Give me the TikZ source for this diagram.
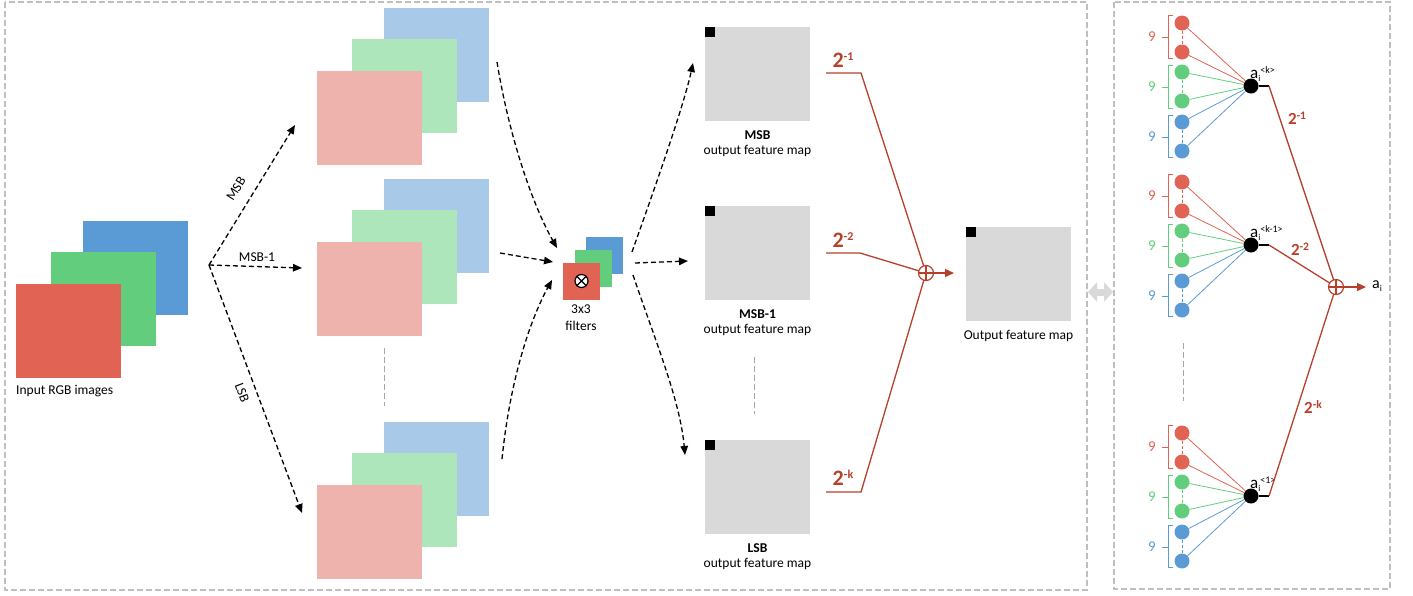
\documentclass[tikz,border=0pt]{standalone}
\usepackage{fontspec}
\setmainfont{Carlito}
\usetikzlibrary{arrows.meta}
\definecolor{cR}{HTML}{E06353}
\definecolor{cG}{HTML}{62CE7D}
\definecolor{cB}{HTML}{5B9BD5}
\definecolor{pR}{HTML}{EFB3AE}
\definecolor{pG}{HTML}{ADE6BA}
\definecolor{pB}{HTML}{A9C9E8}
\definecolor{mapg}{HTML}{D9D9D9}
\definecolor{dred}{HTML}{B5412A}
\definecolor{bord}{HTML}{BFBFBF}
\definecolor{sepg}{HTML}{A6A6A6}
\newcommand\myfs[1]{\fontsize{#1}{#1}\selectfont}
\begin{document}
\begin{tikzpicture}[x=1pt,y=-1pt,
  sq/.style={minimum width=105pt,minimum height=94pt,inner sep=0pt,outer sep=0pt},
  fsq/.style={minimum width=37pt,minimum height=37pt,inner sep=0pt,outer sep=0pt},
  blk/.style={fill=black,minimum size=10pt,inner sep=0pt,outer sep=0pt,anchor=north west},
  darr/.style={draw=black,line width=1.3pt,dash pattern=on 5pt off 3pt,-{Triangle[length=9pt,width=7.5pt]}},
  txt/.style={font=\myfs{13.5},inner sep=0pt},
  redln/.style={draw=dred,line width=1.3pt},
  wl/.style={text=dred,font=\bfseries\myfs{22},inner sep=0pt},
  wr/.style={text=dred,font=\bfseries\myfs{17},inner sep=0pt},
  dbox/.style={draw=bord,line width=1.5pt,dash pattern=on 6pt off 3pt},
  sepl/.style={draw=sepg,line width=0.8pt,dash pattern=on 6pt off 3pt},
  neu/.style={circle,minimum size=15pt,inner sep=0pt,outer sep=0pt},
  hid/.style={circle,fill=black,minimum size=15pt,inner sep=0pt,outer sep=0pt},
  sumc/.style={circle,draw=dred,line width=1.2pt,fill=white,minimum size=15pt,inner sep=0pt,outer sep=0pt},
]
\useasboundingbox (0,0) rectangle (1413,595);
% frames
\draw[dbox] (5,2) rectangle (1087,590);
\draw[dbox] (1114,2) rectangle (1390,589);
% double arrow
\coordinate (da1) at (1088,292);
\coordinate (da2) at (1113,292);
\draw[draw=mapg,line width=7pt,{Triangle[length=9pt,width=19pt]}-{Triangle[length=9pt,width=19pt]}] (da1) -- (da2);

% input images
\node[sq,fill=cB] (inB) at (135.5,268) {};
\node[sq,fill=cG] (inG) at (103.5,299) {};
\node[sq,fill=cR] (inR) at (68.5,331) {};
\node[txt,anchor=base west] (inLbl) at (16,394.5) {Input RGB images};

% bit-plane stacks
\foreach \k/\y in {1/55,2/226,3/469}{
  \node[sq,fill=pB] (sB\k) at (436.5,\y) {};
  \node[sq,fill=pG] (sG\k) at (404.5,\y+31) {};
  \node[sq,fill=pR] (sR\k) at (369.5,\y+63) {};
}
\draw[sepl] (384,348) -- (384,406);

% branch arrows
\coordinate (br) at (209,265);
\coordinate (eMSB) at (295,125);
\coordinate (eMSB1) at (302,268);
\coordinate (eLSB) at (302,513);
\draw[darr] (br) -- (eMSB);
\draw[darr] (br) -- (eMSB1);
\draw[darr] (br) -- (eLSB);
\node[txt,rotate=58] (lMSB) at (236,189) {MSB};
\node[txt,anchor=base] (lMSB1) at (257,261) {MSB-1};
\node[txt,rotate=-69] (lLSB) at (242,393) {LSB};

% filters
\node[fsq,fill=cB] (fB) at (604.5,255.5) {};
\node[fsq,fill=cG] (fG) at (593,268) {};
\node[fsq,fill=cR] (fR) at (581.5,281) {};
\node[circle,draw=black,line width=1.2pt,fill=white,minimum size=13pt,inner sep=0pt] (ot) at (fR) {};
\draw[line width=1.1pt] (ot.north east) -- (ot.south west) (ot.north west) -- (ot.south east);
\node[txt,anchor=base] (f1) at (581,313) {3x3};
\node[txt,anchor=base] (f2) at (581,330) {filters};

% arrows into filters
\coordinate (a1s) at (497,62); \coordinate (a1e) at (557,248);
\draw[darr] (a1s) .. controls (508,130) and (530,200) .. (a1e);
\coordinate (a2s) at (500,253); \coordinate (a2e) at (553,262);
\draw[darr] (a2s) -- (a2e);
\coordinate (a3s) at (502,459); \coordinate (a3e) at (552,280);
\draw[darr] (a3s) .. controls (510,380) and (530,320) .. (a3e);

% arrows out of filters
\coordinate (b1s) at (632,252); \coordinate (b1e) at (693,63);
\draw[darr] (b1s) .. controls (645,215) and (683,110) .. (b1e);
\coordinate (b2s) at (635,263); \coordinate (b2e) at (688,261);
\draw[darr] (b2s) -- (b2e);
\coordinate (b3s) at (633,275); \coordinate (b3e) at (685,455);
\draw[darr] (b3s) .. controls (655,340) and (680,400) .. (b3e);

% output feature maps
\node[sq,fill=mapg] (m1) at (757.5,74) {};
\node[blk] (k1) at (m1.north west) {};
\node[txt,anchor=base,font=\bfseries\myfs{13.5}] (m1a) at (757.5,139) {MSB};
\node[txt,anchor=base] (m1b) at (757.5,154) {output feature map};
\node[sq,fill=mapg] (m2) at (757.5,253) {};
\node[blk] (k2) at (m2.north west) {};
\node[txt,anchor=base,font=\bfseries\myfs{13.5}] (m2a) at (757.5,318) {MSB-1};
\node[txt,anchor=base] (m2b) at (757.5,333) {output feature map};
\node[sq,fill=mapg] (m3) at (757.5,487) {};
\node[blk] (k3) at (m3.north west) {};
\node[txt,anchor=base,font=\bfseries\myfs{13.5}] (m3a) at (757.5,552) {LSB};
\node[txt,anchor=base] (m3b) at (757.5,567) {output feature map};
\draw[sepl] (754,357) -- (754,414);

% weighted sum
\node[sumc] (sum1) at (926,273) {};
\draw[dred,line width=1.2pt] (sum1.north) -- (sum1.south) (sum1.west) -- (sum1.east);
\coordinate (r1a) at (826,73); \coordinate (r1b) at (861,73);
\coordinate (r2a) at (826,253); \coordinate (r2b) at (860,253);
\coordinate (r3a) at (826,492); \coordinate (r3b) at (861,492);
\draw[redln] (r1a) -- (r1b) -- (sum1);
\draw[redln] (r2a) -- (r2b) -- (sum1);
\draw[redln] (r3a) -- (r3b) -- (sum1);
\node[wl] (w1) at (843,60) {2\raisebox{7.5pt}{\myfs{12}-1}};
\node[wl] (w2) at (843,240) {2\raisebox{7.5pt}{\myfs{12}-2}};
\node[wl] (w3) at (843,478) {2\raisebox{7.5pt}{\myfs{12}-k}};
\coordinate (so) at (954,273);
\draw[redln,-{Triangle[length=9pt,width=8pt]}] (sum1) -- (so);

% final output map
\node[sq,fill=mapg] (mf) at (1018.5,274) {};
\node[blk] (kf) at (mf.north west) {};
\node[txt,anchor=base] (mfl) at (1018.5,339) {Output feature map};

% right panel
\node[sumc] (sum2) at (1336,287) {};
\draw[dred,line width=1.2pt] (sum2.north) -- (sum2.south) (sum2.west) -- (sum2.east);
\coordinate (so2) at (1366,287);
\draw[redln,-{Triangle[length=9pt,width=8pt]}] (sum2) -- (so2);
\node[anchor=base west,inner sep=0pt,font=\myfs{16}] (aout) at (1372,288) {a\raisebox{-3pt}{\myfs{9}i}};

\foreach \g/\b/\s in {1/23/{<k>},2/182/{<k-1>},3/433/{<1>}}{
  \foreach \i/\o/\c in {1/0/cR,2/29/cR,3/49/cG,4/78/cG,5/99/cB,6/128/cB}{
    \node[neu,fill=\c] (n\g\i) at (1182,\b+\o) {};
  }
  \node[hid] (h\g) at (1251,\b+63) {};
  \foreach \i/\c in {1/cR,2/cR,3/cG,4/cG,5/cB,6/cB}{
    \draw[\c,line width=0.8pt] (n\g\i) -- (h\g);
  }
  \draw[cR,line width=0.8pt,dash pattern=on 3pt off 2pt] (n\g1) -- (n\g2);
  \draw[cG,line width=0.8pt,dash pattern=on 3pt off 2pt] (n\g3) -- (n\g4);
  \draw[cB,line width=0.8pt,dash pattern=on 3pt off 2pt] (n\g5) -- (n\g6);
  \foreach \t/\e/\m/\c in {-8/35/14/cR,42/85/64/cG,92/134/114/cB}{
    \draw[\c,line width=1pt] (1173,\b+\t) -- (1168,\b+\t) -- (1168,\b+\e) -- (1173,\b+\e);
    \draw[\c,line width=1pt] (1162,\b+\m) -- (1168,\b+\m);
    \node[text=\c,font=\myfs{15},inner sep=0pt] at (1152,\b+\m) {9};
  }
  \node[anchor=base west,inner sep=0pt,font=\myfs{17}] (al\g) at (1250,\b+55) {a\rlap{\raisebox{-3pt}{\myfs{9}i}}\hspace{2pt}\raisebox{5pt}{\myfs{10}\s}};
  \coordinate (t\g) at (1269,\b+63);
  \draw[line width=1.2pt] (h\g) -- (t\g);
  \draw[redln] (t\g) -- (sum2);
}
\node[wr] (v1) at (1297,118) {2\raisebox{5pt}{\myfs{11.5}-1}};
\node[wr] (v2) at (1300,249) {2\raisebox{5pt}{\myfs{11.5}-2}};
\node[wr] (v3) at (1313,407) {2\raisebox{5pt}{\myfs{11.5}-k}};
\draw[sepl] (1183,343) -- (1183,401);
\end{tikzpicture}
\end{document}
